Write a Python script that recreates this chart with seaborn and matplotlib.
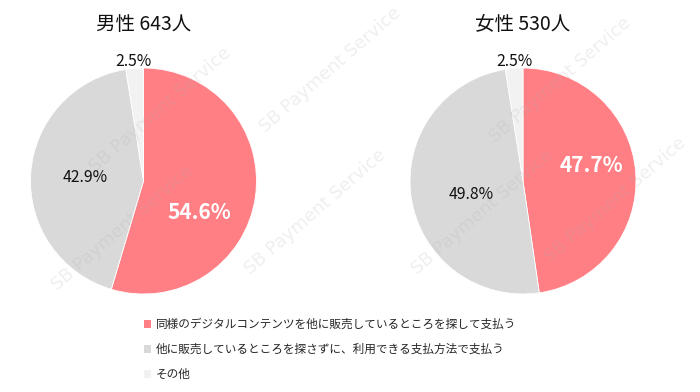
import matplotlib
matplotlib.use("Agg")
import matplotlib.pyplot as plt
from matplotlib.patches import Patch
import seaborn as sns

# ---- data ----
categories = [
    "同様のデジタルコンテンツを他に販売しているところを探して支払う",
    "他に販売しているところを探さずに、利用できる支払方法で支払う",
    "その他",
]
male_values = [54.6, 42.9, 2.5]
female_values = [47.7, 49.8, 2.5]
titles = ["男性 643人", "女性 530人"]

# ---- style ----
sns.set_theme(style="white")
plt.rcParams["font.family"] = ["Noto Sans CJK JP", "DejaVu Sans"]
colors = sns.color_palette(["#FF7F85", "#D9D9D9", "#F2F2F2"])

W, H = 700, 392
fig = plt.figure(figsize=(W / 100, H / 100), dpi=100)
fig.patch.set_facecolor("white")

# layout (pixels): pie centers, radius
centers = [(143.5, 181), (523, 181)]
R = 113
# label positions per wedge, in pie-radius units
label_pos = [
    [(0.49, -0.28), (-0.52, 0.03), (-0.09, 1.06)],
    [(0.61, 0.14), (-0.46, -0.12), (-0.08, 1.06)],
]
title_y = 24

for i, (vals, title) in enumerate(zip([male_values, female_values], titles)):
    cx, cy = centers[i]
    ax = fig.add_axes([(cx - R) / W, (H - cy - R) / H, 2 * R / W, 2 * R / H])
    wedges, _ = ax.pie(vals, colors=colors, startangle=90, counterclock=False,
                       radius=1.0, wedgeprops=dict(linewidth=0.6, edgecolor="white"))
    ax.set_xlim(-1, 1)
    ax.set_ylim(-1, 1)
    ax.set_aspect("equal")
    ax.axis("off")
    for j, v in enumerate(vals):
        x, y = label_pos[i][j]
        if j == 0:
            ax.text(x, y, f"{v:.1f}%", ha="center", va="center", color="white",
                    fontsize=15, fontweight="bold")
        else:
            ax.text(x, y, f"{v:.1f}%", ha="center", va="center", color="#111111",
                    fontsize=11.3)
    fig.text(cx / W, 1 - title_y / H, title, ha="center", va="center",
             fontsize=14, color="#111111")

handles = [Patch(facecolor=c, edgecolor="none") for c in colors]
fig.legend(handles, categories, loc="upper left", bbox_to_anchor=(143.5 / W, 1 - 318 / H),
           frameon=False, fontsize=8.4, handlelength=0.65, handleheight=0.65,
           handletextpad=0.4, labelspacing=1.02, borderaxespad=0, borderpad=0)

# watermark (faint, repeated)
wm_centers = [(122, 228), (315, 212), (482, 212), (615, 200),
              (160, 110), (330, 70), (560, 80)]
for (x, y) in wm_centers:
    fig.text(x / W, 1 - y / H, "SB Payment Service", ha="center", va="center",
             rotation=41, fontsize=13, color="#B0B0B0", alpha=0.2, zorder=10,
             family=["DejaVu Sans"])

fig.savefig("out.png", dpi=100)
